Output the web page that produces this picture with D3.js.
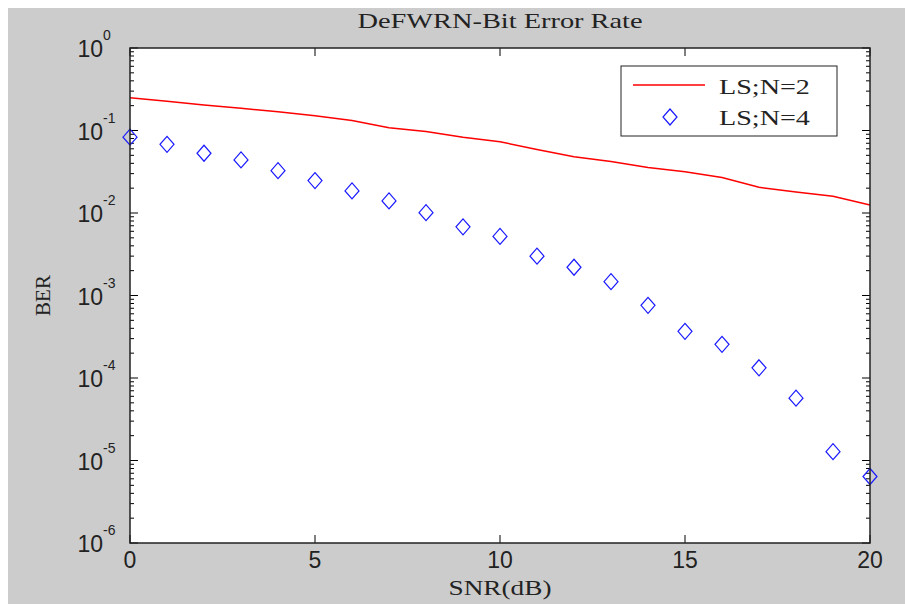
<!DOCTYPE html>
<html lang="en">
<head>
    <meta charset="utf-8">
    <title>DeFWRN-Bit Error Rate</title>
    <style>
        body { margin: 0; background: #ffffff; }
    </style>
</head>
<body>
    <div id="container"></div>
</body>
<script src="https://cdn.jsdelivr.net/npm/d3@7"></script>
<script>
    // values
    const snr = [0, 1, 2, 3, 4, 5, 6, 7, 8, 9, 10, 11, 12, 13, 14, 15, 16, 17, 18, 19, 20]
    const berN2 = [0.25, 0.226, 0.204, 0.186, 0.169, 0.151, 0.132, 0.108, 0.097, 0.083, 0.073,
        0.059, 0.048, 0.042, 0.0355, 0.0317, 0.027, 0.0205, 0.018, 0.016, 0.0125]
    const berN4 = [0.083, 0.068, 0.053, 0.044, 0.0326, 0.0247, 0.0185, 0.014, 0.0101, 0.0068, 0.0052,
        0.0030, 0.0022, 0.00147, 0.00076, 0.000368, 0.000256, 0.000133, 0.000057, 0.0000128, 0.0000064]
    const xTicks = [0, 5, 10, 15, 20]
    const yTicks = [1, 1e-1, 1e-2, 1e-3, 1e-4, 1e-5, 1e-6]
    const seriesNames = ["LS;N=2", "LS;N=4"]

    const width = 905, height = 604
    const plotL = 130, plotR = 870, plotT = 48, plotB = 543
    const serif = "'Liberation Serif', 'Times New Roman', serif"
    const sans = "'Liberation Sans', Arial, sans-serif"

    let svg = d3.select("#container").append("svg")
        .attr("width", width)
        .attr("height", height)
        .style("display", "block")

    svg.append("rect")
        .attr("x", 8).attr("y", 8)
        .attr("width", width - 8).attr("height", height - 8)
        .attr("fill", "#cccccc")

    let x = d3.scaleLinear().domain([0, 20]).range([plotL, plotR])
    let y = d3.scaleLog().domain([1e-6, 1]).range([plotB, plotT])

    svg.append("rect")
        .attr("x", plotL).attr("y", plotT)
        .attr("width", plotR - plotL).attr("height", plotB - plotT)
        .attr("fill", "white")

    // minor ticks for the log axis
    let minor = []
    for (let e = -6; e < 0; e++) {
        for (let m = 2; m <= 9; m++) minor.push(m * Math.pow(10, e))
    }

    let ticks = svg.append("g").attr("stroke", "#000").attr("stroke-width", 1)
    minor.forEach(v => {
        ticks.append("line").attr("x1", plotL).attr("x2", plotL + 4).attr("y1", y(v)).attr("y2", y(v))
        ticks.append("line").attr("x1", plotR).attr("x2", plotR - 4).attr("y1", y(v)).attr("y2", y(v))
    })
    yTicks.forEach(v => {
        ticks.append("line").attr("x1", plotL).attr("x2", plotL + 8).attr("y1", y(v)).attr("y2", y(v))
        ticks.append("line").attr("x1", plotR).attr("x2", plotR - 8).attr("y1", y(v)).attr("y2", y(v))
    })
    xTicks.forEach(v => {
        ticks.append("line").attr("x1", x(v)).attr("x2", x(v)).attr("y1", plotB).attr("y2", plotB - 8)
        ticks.append("line").attr("x1", x(v)).attr("x2", x(v)).attr("y1", plotT).attr("y2", plotT + 8)
    })

    // data
    let line = d3.line()
        .x((d, i) => x(snr[i]))
        .y(d => y(d))

    svg.append("path")
        .datum(berN2)
        .attr("d", line)
        .attr("fill", "none")
        .attr("stroke", "#ff0000")
        .attr("stroke-width", 1.5)

    function diamond(g, cx, cy) {
        g.append("path")
            .attr("d", `M${cx},${cy - 8}L${cx + 7},${cy}L${cx},${cy + 8}L${cx - 7},${cy}Z`)
            .attr("fill", "none")
            .attr("stroke", "#1a1aff")
            .attr("stroke-width", 1.2)
    }

    let pts = svg.append("g")
    berN4.forEach((v, i) => diamond(pts, x(snr[i]), y(v)))

    // axes box
    svg.append("rect")
        .attr("x", plotL).attr("y", plotT)
        .attr("width", plotR - plotL).attr("height", plotB - plotT)
        .attr("fill", "none")
        .attr("stroke", "#222")
        .attr("stroke-width", 1.5)

    // tick labels
    xTicks.forEach(v => {
        svg.append("text")
            .attr("x", x(v)).attr("y", plotB + 25)
            .attr("text-anchor", "middle")
            .attr("font-family", sans).attr("font-size", 23)
            .attr("fill", "#222")
            .text(v)
    })
    yTicks.forEach(v => {
        let ex = Math.round(Math.log10(v))
        svg.append("text")
            .attr("x", plotL - 27).attr("y", y(v) + 9)
            .attr("text-anchor", "end")
            .attr("font-family", sans).attr("font-size", 23)
            .attr("fill", "#222")
            .text("10")
        svg.append("text")
            .attr("x", plotL - 27).attr("y", y(v) - 8)
            .attr("font-family", sans).attr("font-size", 14)
            .attr("fill", "#222")
            .text(ex)
    })

    // serif text, stretched a little sideways like the original
    function wideText(g, tx, ty, str, size, sx, anchor, rot) {
        return g.append("text")
            .attr("transform", `translate(${tx},${ty})` + (rot ? ` rotate(${rot})` : "") + ` scale(${sx},1)`)
            .attr("text-anchor", anchor)
            .attr("font-family", serif).attr("font-size", size)
            .attr("fill", "#222")
            .text(str)
    }

    wideText(svg, (plotL + plotR) / 2, 28, "DeFWRN-Bit Error Rate", 22, 1.29, "middle")
    wideText(svg, (plotL + plotR) / 2, 595, "SNR(dB)", 21, 1.3, "middle")
    wideText(svg, 50, (plotT + plotB) / 2, "BER", 20, 1.05, "middle", -90)

    // legend
    let legend = svg.append("g")
    legend.append("rect")
        .attr("x", 621).attr("y", 66)
        .attr("width", 216).attr("height", 70)
        .attr("fill", "white")
        .attr("stroke", "#222")
        .attr("stroke-width", 1)
    legend.append("line")
        .attr("x1", 633).attr("x2", 705).attr("y1", 85).attr("y2", 85)
        .attr("stroke", "#ff0000").attr("stroke-width", 1.5)
    diamond(legend, 670, 117)
    seriesNames.forEach((name, i) => {
        wideText(legend, 719, 94 + i * 31, name, 22, 1.28, "start")
    })
</script>
</html>
